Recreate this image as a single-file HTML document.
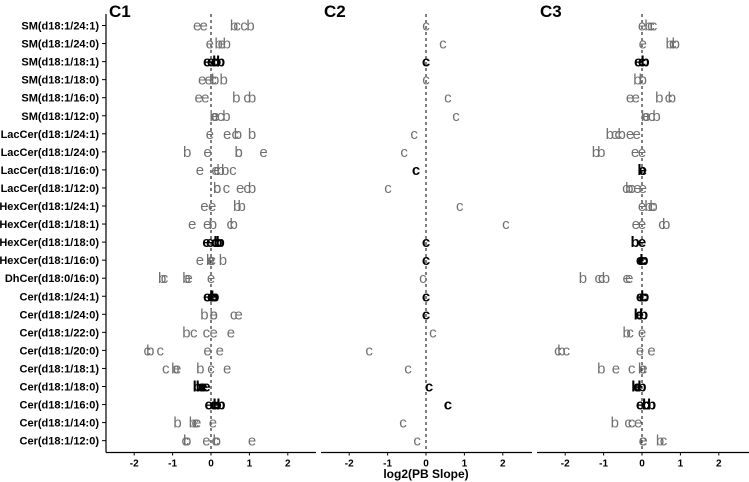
<!DOCTYPE html>
<html><head><meta charset="utf-8"><style>
body{margin:0;background:#fff}
svg{display:block;font-family:"Liberation Sans",Arial,sans-serif}
</style></head><body>
<svg id="chart" width="749" height="482" xmlns="http://www.w3.org/2000/svg"></svg>
<script>
const categories=["SM(d18:1/24:1)","SM(d18:1/24:0)","SM(d18:1/18:1)","SM(d18:1/18:0)","SM(d18:1/16:0)","SM(d18:1/12:0)","LacCer(d18:1/24:1)","LacCer(d18:1/24:0)","LacCer(d18:1/16:0)","LacCer(d18:1/12:0)","HexCer(d18:1/24:1)","HexCer(d18:1/18:1)","HexCer(d18:1/18:0)","HexCer(d18:1/16:0)","DhCer(d18:0/16:0)","Cer(d18:1/24:1)","Cer(d18:1/24:0)","Cer(d18:1/22:0)","Cer(d18:1/20:0)","Cer(d18:1/18:1)","Cer(d18:1/18:0)","Cer(d18:1/16:0)","Cer(d18:1/14:0)","Cer(d18:1/12:0)"];
const xTicks=[-2,-1,0,1,2];
const panelTitles=["C1","C2","C3"];
// C1 values per row: letters b, c, e
const c1B=[[0.6,1.03],[0.2,0.41],[0.15,0.25],[0.11,0.33],[0.66,1.07],[0.07,0.4],[0.7,1.07],[-0.62,0.72],[0.25,0.37],[0.16,1.07],[0.68,0.8],[0.05,0.59],[0.24,0.18],[-0.02,0.31],[-1.27,-0.64],[0.07,0.1],[-0.17,0.07],[-0.64],[-1.58],[-0.93,-0.28],[-0.36,-0.28],[0.16,0.26],[-0.87,-0.47],[-0.62,0.15]];
const c1C=[[0.68,0.86],[],[0.1],[0.05],[0.94],[0.25],[0.63],[0.72],[0.16,0.57],[0.16,0.4,0.94],[],[0.5],[0.11],[0.03],[-1.21],[0.0],[0.59],[-0.45,-0.12],[-1.66,-1.32],[-1.18,0.0],[-0.22],[0.07],[-0.41],[-0.67,0.11]];
const c1E=[[-0.36,-0.19],[-0.03,0.28],[-0.1,0.0],[-0.23,-0.06],[-0.32,-0.15],[0.1,0.12],[-0.03,0.42],[-0.09,1.37],[-0.29,0.12],[0.76],[-0.17,0.03],[-0.49,-0.1],[-0.12,-0.02],[-0.29,0.0],[-0.58,0.0],[-0.1,0.03],[0.07,0.72],[0.07,0.52],[-0.09,0.23],[-0.88,0.42],[-0.12,-0.2],[-0.06,0.1],[-0.36,0.05],[-0.12,1.07]];
const c1Sig=[2,12,15,20,21];
// C2: one value per row (letter c)
const c2C=[0,0.44,0,0,0.57,0.78,-0.31,-0.57,-0.26,-0.99,0.88,2.08,0,0,-0.08,0,0,0.18,-1.48,-0.47,0.08,0.57,-0.6,-0.23];
const c2Sig=[2,8,12,13,15,16,20,21];
// C3 values
const c3B=[[0.17],[0.72,0.88],[0.08],[-0.12,0.02],[0.45,0.78],[0.08,0.38],[-0.84,-0.53],[-1.2,-1.06],[0.0],[-0.33],[0.17,0.3],[0.63],[-0.18],[0.05],[-1.54,-0.94],[0.07],[-0.1,0.04],[-0.4],[-2.1],[-1.06,0.0],[-0.16,0.0],[0.12,0.25],[-0.71],[0.47]];
const c3C=[[0.23,0.3],[0.8],[0.0],[],[0.69],[0.25],[-0.71,-0.62],[],[],[-0.42,-0.27],[0.25],[0.52],[],[0.0],[-1.14,-1.05],[0.02],[],[-0.31],[-2.19,-1.97],[-0.27],[-0.12],[0.1],[-0.36,-0.27],[0.56]];
const c3E=[[0.0],[0.02],[-0.1],[],[-0.31,-0.16],[0.12],[-0.31,-0.14],[-0.18,0.0],[0.02],[-0.12,0.02],[0.0],[-0.16,0.0],[0.0],[-0.05],[-0.4,-0.33],[-0.05],[-0.06],[0.0],[-0.05,0.25],[-0.68,0.04],[-0.1],[-0.05],[-0.1],[0.02,0.04]];
const c3Sig=[2,8,12,13,15,16,20,21];

const NS="http://www.w3.org/2000/svg";
const svg=document.getElementById('chart');
function mk(tag,attrs,parent){const e=document.createElementNS(NS,tag);for(const k in attrs)e.setAttribute(k,attrs[k]);(parent||svg).appendChild(e);return e;}
const y0=25.5,yStep=18.05,axisY=452.5;
function yPos(i){return y0+i*yStep;}
const panels=[{l:106,r:316,z:211},{l:321,r:532,z:426},{l:537,r:749,z:642}];
const unit=38.4;
function xScale(p,v){return panels[p].z+v*unit;}

// y labels
categories.forEach((c,i)=>{
  const t=mk('text',{x:99,y:yPos(i)+4,'text-anchor':'end','font-size':'11','font-weight':'bold',fill:'#000'});
  t.textContent=c;
  
  
  const tk=mk('line',{x1:102,x2:106,y1:yPos(i),y2:yPos(i),stroke:'#000'});
  
  
});
const ya=mk('line',{x1:106,x2:106,y1:14,y2:axisY,stroke:'#000','stroke-width':1.2});



panels.forEach((p,pi)=>{
  const g=mk('g',{});
  
  
  const tt=mk('text',{x:p.l+3,y:17,'font-size':'17','font-weight':'bold'},g);
  tt.textContent=panelTitles[pi];
  
  
  const ax=mk('line',{x1:p.l,x2:p.r,y1:axisY,y2:axisY,stroke:'#000','stroke-width':1.2},g);
  
  
  const zl=mk('line',{x1:xScale(pi,0),x2:xScale(pi,0),y1:14,y2:axisY,stroke:'#000','stroke-dasharray':'3,3'},g);
  
  
  xTicks.forEach(v=>{
    const tk=mk('line',{x1:xScale(pi,v),x2:xScale(pi,v),y1:axisY,y2:axisY+3,stroke:'#000'},g);
    
    
    const tl=mk('text',{x:xScale(pi,v),y:axisY+14,'text-anchor':'middle','font-size':'10','font-weight':'bold'},g);
    tl.textContent=v;
    
    
  });
});
const xt=mk('text',{x:426,y:478,'text-anchor':'middle','font-size':'12','font-weight':'bold'});
xt.textContent='log2(PB Slope)';



function drawLetter(pi,i,v,letter,sig){
  const t=mk('text',{x:xScale(pi,v),y:yPos(i)+5,'text-anchor':'middle','font-size':'15',fill:sig?'#000':'#707070','font-weight':sig?'bold':'normal'});
  t.textContent=letter;
  
  
}
function drawSeries(pi,arr,letter,sig){arr.forEach((vals,i)=>vals.forEach(v=>drawLetter(pi,i,v,letter,sig.includes(i))));}
drawSeries(0,c1E,'e',c1Sig);drawSeries(0,c1C,'c',c1Sig);drawSeries(0,c1B,'b',c1Sig);
c2C.forEach((v,i)=>drawLetter(1,i,v,'c',c2Sig.includes(i)));
drawSeries(2,c3E,'e',c3Sig);drawSeries(2,c3C,'c',c3Sig);drawSeries(2,c3B,'b',c3Sig);
</script>
</body></html>
